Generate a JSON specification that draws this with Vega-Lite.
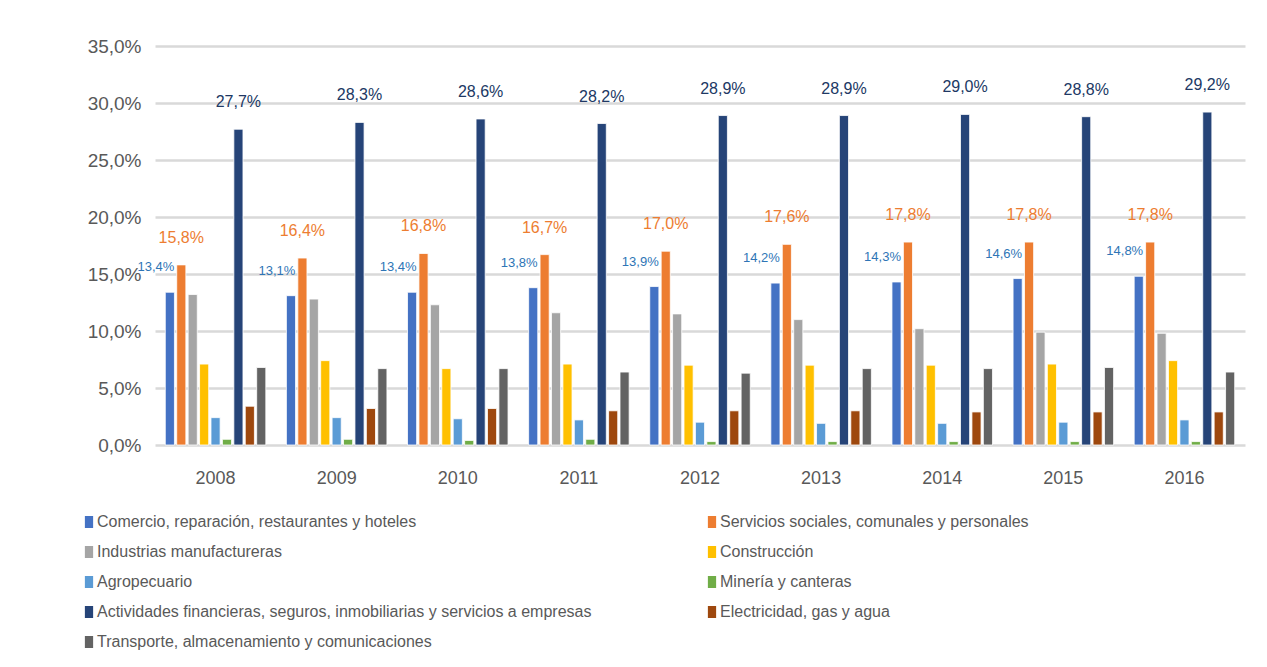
{
  "$schema": "https://vega.github.io/schema/vega-lite/v6.json",
  "width": 1090,
  "height": 399,
  "autosize": {"type": "none"},
  "padding": {"left": 155, "top": 46, "right": 22, "bottom": 222},
  "background": "white",
  "config": {
    "locale": {"number": {"decimal": ",", "thousands": ".", "grouping": [3], "currency": ["", "€"]}},
    "font": "Liberation Sans",
    "view": {"stroke": null}
  },
  "data": {
    "values": [
      {"year": "2008", "cat": "Comercio, reparación, restaurantes y hoteles", "value": 0.134},
      {"year": "2009", "cat": "Comercio, reparación, restaurantes y hoteles", "value": 0.131},
      {"year": "2010", "cat": "Comercio, reparación, restaurantes y hoteles", "value": 0.134},
      {"year": "2011", "cat": "Comercio, reparación, restaurantes y hoteles", "value": 0.138},
      {"year": "2012", "cat": "Comercio, reparación, restaurantes y hoteles", "value": 0.139},
      {"year": "2013", "cat": "Comercio, reparación, restaurantes y hoteles", "value": 0.142},
      {"year": "2014", "cat": "Comercio, reparación, restaurantes y hoteles", "value": 0.143},
      {"year": "2015", "cat": "Comercio, reparación, restaurantes y hoteles", "value": 0.146},
      {"year": "2016", "cat": "Comercio, reparación, restaurantes y hoteles", "value": 0.148},
      {"year": "2008", "cat": "Servicios sociales, comunales y personales", "value": 0.158},
      {"year": "2009", "cat": "Servicios sociales, comunales y personales", "value": 0.164},
      {"year": "2010", "cat": "Servicios sociales, comunales y personales", "value": 0.168},
      {"year": "2011", "cat": "Servicios sociales, comunales y personales", "value": 0.167},
      {"year": "2012", "cat": "Servicios sociales, comunales y personales", "value": 0.170},
      {"year": "2013", "cat": "Servicios sociales, comunales y personales", "value": 0.176},
      {"year": "2014", "cat": "Servicios sociales, comunales y personales", "value": 0.178},
      {"year": "2015", "cat": "Servicios sociales, comunales y personales", "value": 0.178},
      {"year": "2016", "cat": "Servicios sociales, comunales y personales", "value": 0.178},
      {"year": "2008", "cat": "Industrias manufactureras", "value": 0.132},
      {"year": "2009", "cat": "Industrias manufactureras", "value": 0.128},
      {"year": "2010", "cat": "Industrias manufactureras", "value": 0.123},
      {"year": "2011", "cat": "Industrias manufactureras", "value": 0.116},
      {"year": "2012", "cat": "Industrias manufactureras", "value": 0.115},
      {"year": "2013", "cat": "Industrias manufactureras", "value": 0.110},
      {"year": "2014", "cat": "Industrias manufactureras", "value": 0.102},
      {"year": "2015", "cat": "Industrias manufactureras", "value": 0.099},
      {"year": "2016", "cat": "Industrias manufactureras", "value": 0.098},
      {"year": "2008", "cat": "Construcción", "value": 0.071},
      {"year": "2009", "cat": "Construcción", "value": 0.074},
      {"year": "2010", "cat": "Construcción", "value": 0.067},
      {"year": "2011", "cat": "Construcción", "value": 0.071},
      {"year": "2012", "cat": "Construcción", "value": 0.070},
      {"year": "2013", "cat": "Construcción", "value": 0.070},
      {"year": "2014", "cat": "Construcción", "value": 0.070},
      {"year": "2015", "cat": "Construcción", "value": 0.071},
      {"year": "2016", "cat": "Construcción", "value": 0.074},
      {"year": "2008", "cat": "Agropecuario", "value": 0.024},
      {"year": "2009", "cat": "Agropecuario", "value": 0.024},
      {"year": "2010", "cat": "Agropecuario", "value": 0.023},
      {"year": "2011", "cat": "Agropecuario", "value": 0.022},
      {"year": "2012", "cat": "Agropecuario", "value": 0.020},
      {"year": "2013", "cat": "Agropecuario", "value": 0.019},
      {"year": "2014", "cat": "Agropecuario", "value": 0.019},
      {"year": "2015", "cat": "Agropecuario", "value": 0.020},
      {"year": "2016", "cat": "Agropecuario", "value": 0.022},
      {"year": "2008", "cat": "Minería y canteras", "value": 0.005},
      {"year": "2009", "cat": "Minería y canteras", "value": 0.005},
      {"year": "2010", "cat": "Minería y canteras", "value": 0.004},
      {"year": "2011", "cat": "Minería y canteras", "value": 0.005},
      {"year": "2012", "cat": "Minería y canteras", "value": 0.003},
      {"year": "2013", "cat": "Minería y canteras", "value": 0.003},
      {"year": "2014", "cat": "Minería y canteras", "value": 0.003},
      {"year": "2015", "cat": "Minería y canteras", "value": 0.003},
      {"year": "2016", "cat": "Minería y canteras", "value": 0.003},
      {"year": "2008", "cat": "Actividades financieras, seguros, inmobiliarias y servicios a empresas", "value": 0.277},
      {"year": "2009", "cat": "Actividades financieras, seguros, inmobiliarias y servicios a empresas", "value": 0.283},
      {"year": "2010", "cat": "Actividades financieras, seguros, inmobiliarias y servicios a empresas", "value": 0.286},
      {"year": "2011", "cat": "Actividades financieras, seguros, inmobiliarias y servicios a empresas", "value": 0.282},
      {"year": "2012", "cat": "Actividades financieras, seguros, inmobiliarias y servicios a empresas", "value": 0.289},
      {"year": "2013", "cat": "Actividades financieras, seguros, inmobiliarias y servicios a empresas", "value": 0.289},
      {"year": "2014", "cat": "Actividades financieras, seguros, inmobiliarias y servicios a empresas", "value": 0.290},
      {"year": "2015", "cat": "Actividades financieras, seguros, inmobiliarias y servicios a empresas", "value": 0.288},
      {"year": "2016", "cat": "Actividades financieras, seguros, inmobiliarias y servicios a empresas", "value": 0.292},
      {"year": "2008", "cat": "Electricidad, gas y agua", "value": 0.034},
      {"year": "2009", "cat": "Electricidad, gas y agua", "value": 0.032},
      {"year": "2010", "cat": "Electricidad, gas y agua", "value": 0.032},
      {"year": "2011", "cat": "Electricidad, gas y agua", "value": 0.030},
      {"year": "2012", "cat": "Electricidad, gas y agua", "value": 0.030},
      {"year": "2013", "cat": "Electricidad, gas y agua", "value": 0.030},
      {"year": "2014", "cat": "Electricidad, gas y agua", "value": 0.029},
      {"year": "2015", "cat": "Electricidad, gas y agua", "value": 0.029},
      {"year": "2016", "cat": "Electricidad, gas y agua", "value": 0.029},
      {"year": "2008", "cat": "Transporte, almacenamiento y comunicaciones", "value": 0.068},
      {"year": "2009", "cat": "Transporte, almacenamiento y comunicaciones", "value": 0.067},
      {"year": "2010", "cat": "Transporte, almacenamiento y comunicaciones", "value": 0.067},
      {"year": "2011", "cat": "Transporte, almacenamiento y comunicaciones", "value": 0.064},
      {"year": "2012", "cat": "Transporte, almacenamiento y comunicaciones", "value": 0.063},
      {"year": "2013", "cat": "Transporte, almacenamiento y comunicaciones", "value": 0.067},
      {"year": "2014", "cat": "Transporte, almacenamiento y comunicaciones", "value": 0.067},
      {"year": "2015", "cat": "Transporte, almacenamiento y comunicaciones", "value": 0.068},
      {"year": "2016", "cat": "Transporte, almacenamiento y comunicaciones", "value": 0.064}
    ]
  },
  "encoding": {
    "x": {
      "field": "year", "type": "nominal",
      "scale": {"paddingInner": 0.17, "paddingOuter": 0.085},
      "axis": {"title": null, "labelAngle": 0, "ticks": false, "domain": false, "labelFontSize": 18, "labelColor": "#595959", "labelPadding": 24}
    },
    "xOffset": {
      "field": "cat", "type": "nominal",
      "scale": {"paddingInner": 0.2, "domain": [
        "Comercio, reparación, restaurantes y hoteles",
        "Servicios sociales, comunales y personales",
        "Industrias manufactureras",
        "Construcción",
        "Agropecuario",
        "Minería y canteras",
        "Actividades financieras, seguros, inmobiliarias y servicios a empresas",
        "Electricidad, gas y agua",
        "Transporte, almacenamiento y comunicaciones"
      ]}
    },
    "y": {
      "field": "value", "type": "quantitative",
      "scale": {"domain": [0, 0.35], "nice": false},
      "axis": {"title": null, "format": ".1%", "values": [0, 0.05, 0.1, 0.15, 0.2, 0.25, 0.3, 0.35], "ticks": false, "domain": false, "gridColor": "#d9d9d9", "gridWidth": 2.5, "labelFontSize": 19, "labelColor": "#595959", "labelPadding": 14}
    }
  },
  "layer": [
    {
      "mark": {"type": "bar", "stroke": "white", "strokeWidth": 0.8},
      "encoding": {
        "color": {
          "field": "cat", "type": "nominal",
          "scale": {
            "domain": [
              "Comercio, reparación, restaurantes y hoteles",
              "Industrias manufactureras",
              "Agropecuario",
              "Actividades financieras, seguros, inmobiliarias y servicios a empresas",
              "Transporte, almacenamiento y comunicaciones",
              "Servicios sociales, comunales y personales",
              "Construcción",
              "Minería y canteras",
              "Electricidad, gas y agua"
            ],
            "range": ["#4472C4", "#A5A5A5", "#5B9BD5", "#264478", "#636363", "#ED7D31", "#FFC000", "#70AD47", "#9E480E"]
          },
          "legend": {
            "title": null, "orient": "none", "legendX": -74, "legendY": 468,
            "columns": 2, "columnPadding": 112, "rowPadding": 14,
            "labelFontSize": 16, "labelColor": "#595959", "labelLimit": 700, "labelOffset": 0,
            "symbolType": "M-0.55,-0.8L0.55,-0.8L0.55,0.8L-0.55,0.8Z", "symbolSize": 225, "symbolStrokeWidth": 0
          }
        }
      }
    },
    {
      "transform": [{"filter": "datum.cat === 'Comercio, reparación, restaurantes y hoteles'"}],
      "mark": {"type": "text", "dx": -14, "dy": -25, "fontSize": 13, "color": "#2E75B6"},
      "encoding": {"text": {"field": "value", "type": "quantitative", "format": ".1%"}}
    },
    {
      "transform": [{"filter": "datum.cat === 'Servicios sociales, comunales y personales'"}],
      "mark": {"type": "text", "dy": -27, "fontSize": 16, "color": "#ED7D31"},
      "encoding": {"text": {"field": "value", "type": "quantitative", "format": ".1%"}}
    },
    {
      "transform": [{"filter": "datum.cat === 'Actividades financieras, seguros, inmobiliarias y servicios a empresas'"}],
      "mark": {"type": "text", "dy": -27, "fontSize": 16, "color": "#203864"},
      "encoding": {"text": {"field": "value", "type": "quantitative", "format": ".1%"}}
    }
  ]
}
